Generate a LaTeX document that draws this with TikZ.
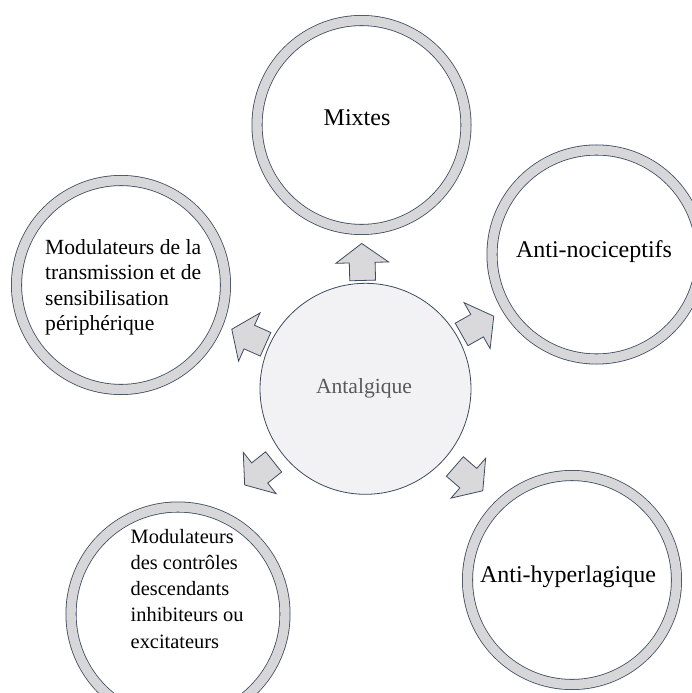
\documentclass[tikz,border=0pt]{standalone}
\usepackage{fontspec}
\setmainfont{Liberation Serif}
\usetikzlibrary{shapes.arrows,calc}
\definecolor{ringfill}{HTML}{D7D7DA}
\definecolor{edge}{HTML}{3E4A5E}
\definecolor{ctrfill}{HTML}{F2F2F4}
\definecolor{arrowfill}{HTML}{D9D9DB}
\definecolor{ctrtext}{HTML}{595959}
\begin{document}
\begin{tikzpicture}[x=1pt,y=1pt,
  ring/.style={circle, draw=edge, line width=0.8pt, double=ringfill, double distance=9.4pt, fill=white, minimum size=209pt, inner sep=0pt},
  hub/.style={circle, draw=edge, line width=0.8pt, fill=ctrfill, minimum size=211pt, inner sep=0pt},
  blockarrow/.style={single arrow, draw=edge, line width=0.8pt, fill=arrowfill, minimum height=37pt, inner xsep=0pt, inner ysep=12.5pt, single arrow head extend=13.5pt, single arrow tip angle=108, single arrow head indent=0pt},
  big/.style={font=\fontsize{24}{28}\selectfont, inner sep=0pt},
  small/.style={font=\fontsize{21.6}{25.6}\selectfont, align=left, inner sep=0pt}]
\useasboundingbox (0,0) rectangle (692,-693);
\clip (0,0) rectangle (692,-693);
% rings
\node[ring] (mixR) at (361.5,-125) {};
\node[ring] (nocR) at (596.5,-254.5) {};
\node[ring] (hypR) at (572,-580) {};
\node[ring, minimum size=214pt] (desR) at (178,-614) {};
\node[ring] (perR) at (121,-285) {};
% hub
\node[hub] (hub) at (365.5,-388.8) {};
% texts
\node[big, anchor=base] (mix) at (357,-125) {Mixtes};
\node[big, anchor=base] (noc) at (594,-257) {Anti-nociceptifs};
\node[big, anchor=base] (hyp) at (568,-582.5) {Anti-hyperlagique};
\node[font=\fontsize{21.6}{26}\selectfont, text=ctrtext, anchor=base, inner sep=0pt] (ant) at (364,-393) {Antalgique};
\node[small, anchor=north west] (per) at (45,-239) {Modulateurs de la\\transmission et de\\sensibilisation\\périphérique};
\node[small, font=\fontsize{20.4}{26.2}\selectfont, anchor=north west] (des) at (130.5,-529) {Modulateurs\\des contrôles\\descendants\\inhibiteurs ou\\excitateurs};
% block arrows
\node[blockarrow, rotate=91.5, anchor=tail] (a1) at ($(hub.center)+(91.5:108)$) {};
\node[blockarrow, rotate=29.5, anchor=tail] (a2) at ($(hub.center)+(29.5:110)$) {};
\node[blockarrow, rotate=-41, anchor=tail] (a3) at ($(hub.center)+(-41:118)$) {};
\node[blockarrow, rotate=-141.5, anchor=tail] (a4) at ($(hub.center)+(-141.5:117)$) {};
\node[blockarrow, rotate=156, anchor=tail] (a5) at ($(hub.center)+(156:109)$) {};
\end{tikzpicture}
\end{document}
